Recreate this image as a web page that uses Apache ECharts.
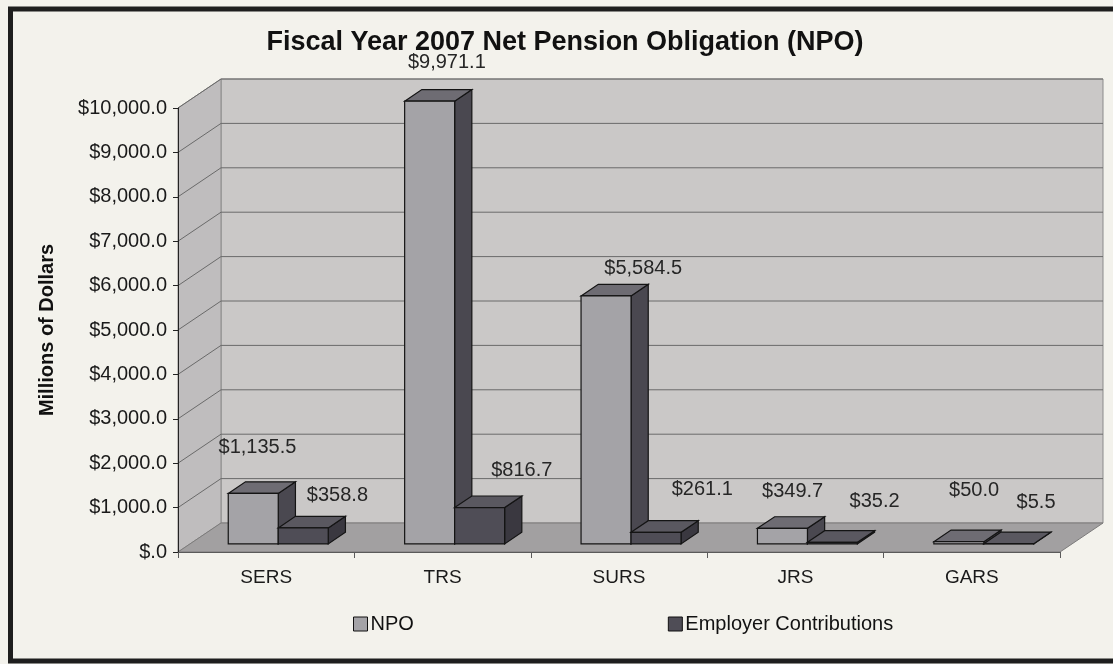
<!DOCTYPE html>
<html>
<head>
<meta charset="utf-8">
<title>Fiscal Year 2007 Net Pension Obligation (NPO)</title>
<script src="https://cdn.jsdelivr.net/npm/echarts@6/dist/echarts.min.js"></script>
<style>
  html, body { margin: 0; padding: 0; background: #f3f2ec; }
  #chart { width: 1113px; height: 664px; }
</style>
</head>
<body>
<div id="chart"></div>
<script>
// ---- data ----
const categories = ['SERS', 'TRS', 'SURS', 'JRS', 'GARS'];
const npoValues = [1135.5, 9971.1, 5584.5, 349.7, 50.0];
const employerValues = [358.8, 816.7, 261.1, 35.2, 5.5];
const yTickValues = [0, 1000, 2000, 3000, 4000, 5000, 6000, 7000, 8000, 9000, 10000];
const seriesNames = ['NPO', 'Employer Contributions'];

// ---- 3D look ----
// oblique offset of the back of the plot box relative to its front plane
const DEPTH = { dx: 43, dy: -29 };
// bars sit between these fractions of the box depth
const BAR_DEPTH = { front: 0.28, back: 0.68 };
// width of one bar as a share of a category band
const BAR_WIDTH = 0.2834;
// per-label nudges from the back-centre of each bar's top face
const LABEL_NUDGE = [
  [[-13, -34], [0, -27], [20, -16], [-7, -25], [-2, -40]],
  [[17, -21], [25, -26], [29, -31], [25, -29], [10, -30]]
];
const FONT = '"Liberation Sans", Arial, sans-serif';

const FACE = [
  { front: '#a4a3a7', top: '#6e6c73', side: '#4a4850' },
  { front: '#4f4d56', top: '#5a5860', side: '#3a3840' }
];
const EDGE = '#141414';

function money(v) {
  if (v === 0) return '$.0';
  const parts = v.toFixed(1).split('.');
  return '$' + parts[0].replace(/\B(?=(\d{3})+(?!\d))/g, ',') + '.' + parts[1];
}

// back wall, left wall, floor and their gridlines
function renderWalls(params, api) {
  const cs = params.coordSys;
  const x0 = cs.x, x1 = cs.x + cs.width, yT = cs.y, yB = cs.y + cs.height;
  const dx = DEPTH.dx, dy = DEPTH.dy;
  const children = [
    { type: 'polygon', shape: { points: [[x0 + dx, yT + dy], [x1 + dx, yT + dy], [x1 + dx, yB + dy], [x0 + dx, yB + dy]] },
      style: { fill: '#cac8c7', stroke: '#8c8b8b', lineWidth: 1 } },
    { type: 'polygon', shape: { points: [[x0, yT], [x0 + dx, yT + dy], [x0 + dx, yB + dy], [x0, yB]] },
      style: { fill: '#bfbdbe', stroke: '#8c8b8b', lineWidth: 1 } },
    { type: 'polygon', shape: { points: [[x0, yB], [x1, yB], [x1 + dx, yB + dy], [x0 + dx, yB + dy]] },
      style: { fill: '#a2a0a1', stroke: '#7c7b7b', lineWidth: 1 } }
  ];
  yTickValues.forEach(function (v) {
    if (v === 0) return;
    const y = api.coord([0, v])[1];
    children.push({ type: 'line', shape: { x1: x0 + dx, y1: y + dy, x2: x1 + dx, y2: y + dy },
      style: { stroke: '#6a6a6a', lineWidth: 1 } });
    children.push({ type: 'line', shape: { x1: x0, y1: y, x2: x0 + dx, y2: y + dy },
      style: { stroke: '#6a6a6a', lineWidth: 1 } });
  });
  return { type: 'group', children: children };
}

// one 3D column per data item, with its value label
function barRenderer(s) {
  return function (params, api) {
    const idx = api.value(0);
    const val = api.value(1);
    const band = api.size([1, 0])[0];
    const w = band * BAR_WIDTH;
    const c = api.coord([idx, val]);
    const b = api.coord([idx, 0]);
    const fx = BAR_DEPTH.front * DEPTH.dx, fy = BAR_DEPTH.front * DEPTH.dy;
    const d = BAR_DEPTH.back - BAR_DEPTH.front;
    const ddx = d * DEPTH.dx, ddy = d * DEPTH.dy;
    const left = (s === 0 ? c[0] - w : c[0]) + fx;
    const right = left + w;
    const top = c[1] + fy;
    const bottom = b[1] + fy;
    const col = FACE[s];
    const nudge = LABEL_NUDGE[s][idx];
    return {
      type: 'group',
      children: [
        { type: 'polygon', shape: { points: [[right, top], [right + ddx, top + ddy], [right + ddx, bottom + ddy], [right, bottom]] },
          style: { fill: col.side, stroke: EDGE, lineWidth: 1.2 } },
        { type: 'polygon', shape: { points: [[left, top], [left + ddx, top + ddy], [right + ddx, top + ddy], [right, top]] },
          style: { fill: col.top, stroke: EDGE, lineWidth: 1.2 } },
        { type: 'polygon', shape: { points: [[left, top], [right, top], [right, bottom], [left, bottom]] },
          style: { fill: col.front, stroke: EDGE, lineWidth: 1.2 } },
        { type: 'text', x: (left + right) / 2 + ddx + nudge[0], y: top + ddy + nudge[1],
          style: { text: money(val), fill: '#262626', fontSize: 20, fontFamily: FONT, align: 'center', verticalAlign: 'middle' } }
      ]
    };
  };
}

const chart = echarts.init(document.getElementById('chart'), null, { renderer: 'canvas' });

chart.setOption({
  backgroundColor: '#f3f2ec',
  animation: false,
  title: {
    text: 'Fiscal Year 2007 Net Pension Obligation (NPO)',
    left: 565, top: 29, padding: 0, textAlign: 'center',
    textStyle: { fontSize: 27, fontWeight: 'bold', fontFamily: FONT, color: '#111' }
  },
  legend: {
    data: seriesNames,
    left: 353, top: 614, padding: 0,
    itemWidth: 14, itemHeight: 14, itemGap: 254,
    icon: 'rect',
    itemStyle: { borderColor: '#111', borderWidth: 1 },
    textStyle: { fontSize: 20, fontFamily: FONT, color: '#111', padding: [0, 0, 0, -2] }
  },
  graphic: [{
    type: 'rect', silent: true, z: 100,
    shape: { x: 10.5, y: 9, width: 1120, height: 652 },
    style: { fill: 'none', stroke: '#1e1e1e', lineWidth: 5 }
  }],
  grid: { left: 178, right: 53, top: 108, bottom: 112, containLabel: false },
  xAxis: {
    type: 'category', data: categories, z: 5,
    axisLine: { lineStyle: { color: '#5a5a5a', width: 1 } },
    axisTick: { show: true, length: 6, lineStyle: { color: '#5a5a5a' } },
    axisLabel: { fontSize: 19, fontFamily: FONT, color: '#1a1a1a', margin: 16 },
    splitLine: { show: false }
  },
  yAxis: {
    type: 'value', min: 0, max: 10000, interval: 1000, z: 5,
    name: 'Millions of Dollars', nameLocation: 'middle', nameGap: 121, nameRotate: 90,
    nameTextStyle: { fontSize: 20, fontWeight: 'bold', fontFamily: FONT, color: '#111' },
    axisLine: { show: true, lineStyle: { color: '#222', width: 1 } },
    axisTick: { show: true, length: 5, lineStyle: { color: '#222' } },
    axisLabel: { fontSize: 20, fontFamily: FONT, color: '#1a1a1a', margin: 11, formatter: money },
    splitLine: { show: false }
  },
  series: [
    { type: 'custom', name: 'walls', silent: true, z: 1, renderItem: renderWalls, data: [[0, 0]] },
    { type: 'custom', name: seriesNames[0], z: 2, renderItem: barRenderer(0),
      itemStyle: { color: FACE[0].front },
      data: npoValues.map(function (v, i) { return [i, v]; }) },
    { type: 'custom', name: seriesNames[1], z: 2, renderItem: barRenderer(1),
      itemStyle: { color: FACE[1].front },
      data: employerValues.map(function (v, i) { return [i, v]; }) }
  ]
});
</script>
</body>
</html>
